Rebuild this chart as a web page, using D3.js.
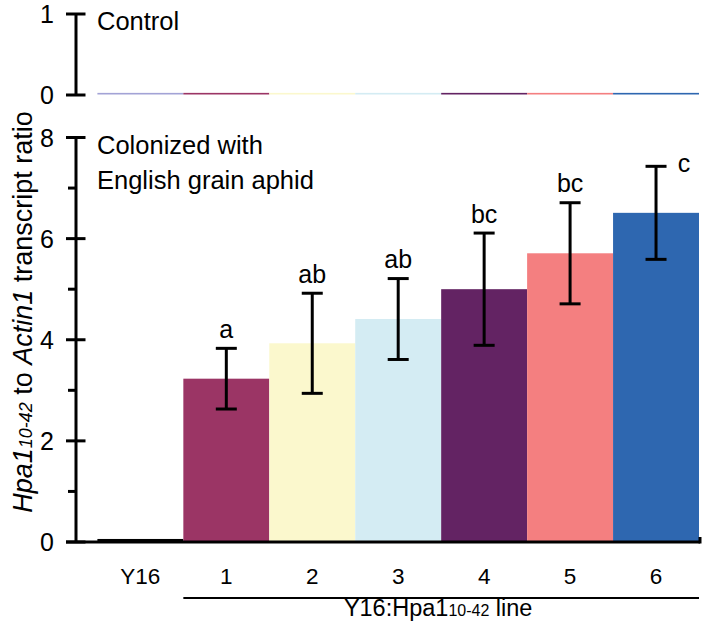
<!DOCTYPE html>
<html><head><meta charset="utf-8">
<script src="https://cdn.jsdelivr.net/npm/d3@7/dist/d3.min.js"></script>
<style>body{margin:0;background:#fff}svg text{font-family:"Liberation Sans",Arial,sans-serif;fill:#000}</style>
</head><body><svg id="c" width="723" height="621"></svg>
<script>
const categories = ["Y16","1","2","3","4","5","6"];
const colonizedValues = [0.06, 3.23, 3.93, 4.41, 5.00, 5.71, 6.51];
const colonizedErrors = [0, 0.60, 0.99, 0.80, 1.11, 1.00, 0.92];
const letters = ["", "a", "ab", "ab", "bc", "bc", "c"];
const controlValues = [0.02, 0.02, 0.02, 0.02, 0.02, 0.02, 0.02];
const topColors = ["#a3a3d6","#9b3565","#fbf8cd","#d4ecf3","#632363","#f47f80","#2e67b0"];
const bottomColors = ["#000000","#9b3565","#fbf8cd","#d4ecf3","#632363","#f47f80","#2e67b0"];
const bottomTicks = [0,2,4,6,8];
const bottomMinor = [1,3,5,7];
const topTicks = [0,1];

const svg = d3.select("#c");
const x = d3.scaleBand().domain(categories).range([97.4, 699]).padding(0);
const yB = d3.scaleLinear().domain([0,8]).range([542, 137.5]);
const yT = d3.scaleLinear().domain([0,1]).range([95, 14]);
const axisX = 76;

// top panel bars
svg.append("g").selectAll("rect").data(categories).join("rect")
  .attr("x", d=>x(d)).attr("width", x.bandwidth())
  .attr("y", (d,i)=>yT(controlValues[i])-0.5).attr("height",(d,i)=>yT(0)-yT(controlValues[i]))
  .attr("fill",(d,i)=>topColors[i]);

// bottom bars
svg.append("g").selectAll("rect").data(categories).join("rect")
  .attr("x", d=>x(d)).attr("width", x.bandwidth())
  .attr("y", (d,i)=>yB(colonizedValues[i])).attr("height",(d,i)=>yB(0)-yB(colonizedValues[i]))
  .attr("fill",(d,i)=>bottomColors[i]);

// error bars
const eg = svg.append("g").attr("stroke","#000").attr("stroke-width",3);
categories.forEach((c,i)=>{
  if(!colonizedErrors[i]) return;
  const cx = x(c)+x.bandwidth()/2;
  const t = yB(colonizedValues[i]+colonizedErrors[i]), b = yB(colonizedValues[i]-colonizedErrors[i]);
  eg.append("line").attr("x1",cx).attr("x2",cx).attr("y1",t).attr("y2",b);
  eg.append("line").attr("x1",cx-10.5).attr("x2",cx+10.5).attr("y1",t).attr("y2",t);
  eg.append("line").attr("x1",cx-10.5).attr("x2",cx+10.5).attr("y1",b).attr("y2",b);
  const last = i===categories.length-1;
  svg.append("text").attr("x", last? cx+28 : cx).attr("y", last? t+6 : t-10.5)
    .attr("text-anchor","middle").attr("font-size",25).text(letters[i]);
});

// axes
const ax = svg.append("g").attr("stroke","#000").attr("stroke-width",3);
ax.append("line").attr("x1",axisX).attr("x2",axisX).attr("y1",yB(8)).attr("y2",yB(0));
bottomTicks.forEach(v=>ax.append("line").attr("x1",axisX-10).attr("x2",axisX+9.5).attr("y1",yB(v)).attr("y2",yB(v)));
bottomMinor.forEach(v=>ax.append("line").attr("x1",axisX-8).attr("x2",axisX).attr("y1",yB(v)).attr("y2",yB(v)));
ax.append("line").attr("x1",axisX-10).attr("x2",x.range()[1]+1).attr("y1",yB(0)).attr("y2",yB(0));
ax.append("line").attr("x1",x.range()[1]+1).attr("x2",x.range()[1]+1).attr("y1",yB(0)+1.5).attr("y2",yB(0)-5);
ax.append("line").attr("x1",axisX).attr("x2",axisX).attr("y1",yT(1)).attr("y2",yT(0));
topTicks.forEach(v=>ax.append("line").attr("x1",axisX-10).attr("x2",axisX+9.5).attr("y1",yT(v)).attr("y2",yT(v)));

svg.append("g").selectAll("text").data(bottomTicks).join("text")
  .attr("x",54).attr("y",d=>yB(d)+9).attr("text-anchor","end").attr("font-size",25).text(d=>d);
svg.append("g").selectAll("text").data(topTicks).join("text")
  .attr("x",54).attr("y",d=>yT(d)+9).attr("text-anchor","end").attr("font-size",25).text(d=>d);

// category labels
svg.append("g").selectAll("text").data(categories).join("text")
  .attr("x",d=>x(d)+x.bandwidth()/2).attr("y",584).attr("text-anchor","middle").attr("font-size",22.5).text(d=>d);
svg.append("line").attr("x1",x("1")).attr("x2",x.range()[1]).attr("y1",598).attr("y2",598).attr("stroke","#000").attr("stroke-width",2);
const gl = svg.append("text").attr("x",(x("1")+x.range()[1])/2-3).attr("y",616).attr("text-anchor","middle").attr("font-size",23.5);
gl.append("tspan").text("Y16:Hpa1");
gl.append("tspan").attr("font-size",16).text("10-42");
gl.append("tspan").text(" line");

// panel annotations
svg.append("text").attr("x",97).attr("y",30).attr("font-size",25.5).text("Control");
svg.append("text").attr("x",97).attr("y",154).attr("font-size",25.5).text("Colonized with");
svg.append("text").attr("x",97).attr("y",189).attr("font-size",25.5).text("English grain aphid");

// y label
const yl = svg.append("text").attr("transform","translate(32,312) rotate(-90)").attr("text-anchor","middle").attr("font-size",27);
yl.append("tspan").attr("font-style","italic").text("Hpa1");
yl.append("tspan").attr("font-style","italic").attr("font-size",18).text("10-42");
yl.append("tspan").text(" to ");
yl.append("tspan").attr("font-style","italic").text("Actin1");
yl.append("tspan").text(" transcript ratio");
</script></body></html>
